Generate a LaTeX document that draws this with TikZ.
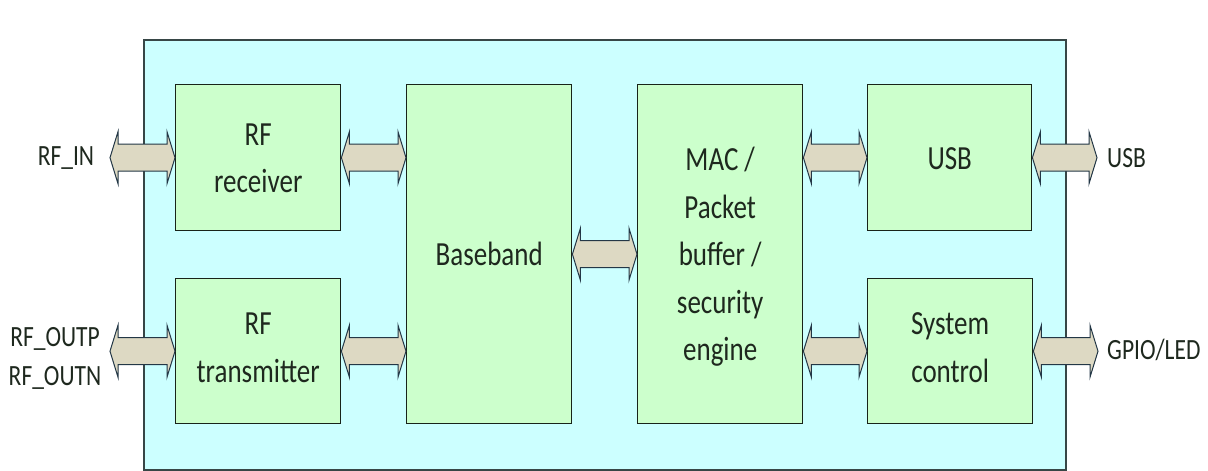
\documentclass[tikz,border=0pt]{standalone}
\usepackage{fontspec}
\usepackage{graphicx}
\setmainfont{Carlito}
\usetikzlibrary{calc}
\definecolor{outerfill}{RGB}{204,255,255}
\definecolor{blkfill}{RGB}{204,255,204}
\definecolor{arrfill}{RGB}{221,217,195}
\definecolor{arrline}{RGB}{35,55,70}
\definecolor{txtcol}{RGB}{30,40,30}
\newcommand\vstr[1]{\scalebox{1}[1.25]{\begin{tabular}{@{}c@{}}#1\end{tabular}}}
\tikzset{
  outerbox/.style={draw={rgb,255:red,55;green,70;blue,70}, line width=1.8pt, fill=outerfill, inner sep=0pt},
  blk/.style={draw={rgb,255:red,25;green,35;blue,25}, line width=1.4pt, fill=blkfill, inner sep=0pt, anchor=north west},
  blktxt/.style={text=txtcol, font=\fontsize{27}{38}\selectfont, inner sep=0pt},
  iolbl/.style={text=txtcol, font=\fontsize{23.5}{31}\selectfont, inner sep=0pt},
  fat/.style={draw=arrline, fill=arrfill, line width=1pt, line join=miter,
    to path={let \p1=(\tikztostart), \p2=(\tikztotarget) in
      (\x1,\y1) -- (\x1+8pt,\y1+26pt) -- (\x1+8pt,\y1+13.5pt) -- (\x2-8pt,\y1+13.5pt)
      -- (\x2-8pt,\y1+26pt) -- (\x2,\y1) -- (\x2-8pt,\y1-26pt) -- (\x2-8pt,\y1-13.5pt)
      -- (\x1+8pt,\y1-13.5pt) -- (\x1+8pt,\y1-26pt) -- cycle}}
}
\begin{document}
\begin{tikzpicture}[x=1pt,y=-1pt]
\useasboundingbox (0,0) rectangle (1208,471);
\node[outerbox, minimum width=922pt, minimum height=430pt, anchor=north west] (chip) at (143,39) {};
% blocks
\node[blk, minimum width=165pt, minimum height=146pt] (rx) at (175,84) {};
\node[blk, minimum width=165pt, minimum height=145pt] (tx) at (175,278) {};
\node[blk, minimum width=165pt, minimum height=339pt] (bb) at (406,84) {};
\node[blk, minimum width=165pt, minimum height=339pt] (mac) at (637,84) {};
\node[blk, minimum width=164pt, minimum height=146pt] (usb) at (867,84) {};
\node[blk, minimum width=165pt, minimum height=145pt] (sys) at (867,278) {};
% block texts
\node[blktxt] (rxt) at ($(rx.center)+(0,2)$) {\vstr{RF\\receiver}};
\node[blktxt] (txt) at ($(tx.center)+(0,-2)$) {\vstr{RF\\transmitter}};
\node[blktxt] (bbt) at ($(bb.center)+(0,2)$) {\vstr{Baseband}};
\node[blktxt] (mact) at ($(mac.center)+(0,2)$) {\vstr{MAC /\\Packet\\buffer /\\security\\engine}};
\node[blktxt] (usbt) at ($(usb.center)+(0,2)$) {\vstr{USB}};
\node[blktxt] (syst) at ($(sys.center)+(0,-2)$) {\vstr{System\\control}};
% outside labels
\node[iolbl] (rfin) at (66,158) {\vstr{RF\_IN}};
\node[iolbl] (rfout) at (55,358) {\vstr{RF\_OUTP\\RF\_OUTN}};
\node[iolbl, anchor=west] (usbl) at (1107,160) {\vstr{USB}};
\node[iolbl, anchor=west] (gpio) at (1107,352) {\vstr{GPIO/LED}};
% free arrow ends
\coordinate (inL) at (110,157);
\coordinate (outL) at (110,350);
\coordinate (usbR) at (1097,157);
\coordinate (sysR) at (1098,350);
% connectors
\draw[fat] (inL |- rx.west) to (rx.west);
\draw[fat] (outL |- tx.west) to (tx.west);
\draw[fat] (rx.east) to (bb.west |- rx.east);
\draw[fat] (tx.east) to (bb.west |- tx.east);
\draw[fat] (bb.east) to (mac.west);
\draw[fat] (mac.east |- usb.west) to (usb.west);
\draw[fat] (mac.east |- sys.west) to (sys.west);
\draw[fat] (usb.east) to (usbR |- usb.east);
\draw[fat] (sys.east) to (sysR |- sys.east);
\end{tikzpicture}
\end{document}
